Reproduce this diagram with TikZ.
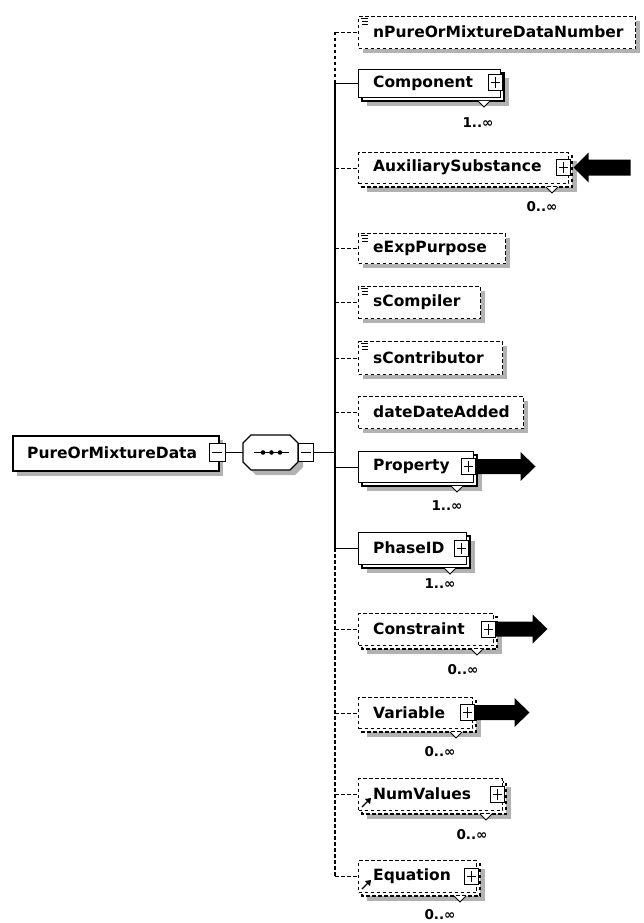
\documentclass[tikz,border=0pt]{standalone}
\usepackage{fontspec}
\setmainfont{DejaVu Sans}
\tikzset{
  lbl/.style={font=\fontsize{15.5}{18}\selectfont\bfseries, anchor=west, inner sep=0},
  mult/.style={font=\fontsize{13.5}{15}\selectfont\bfseries, inner sep=0},
  shadowfill/.style={fill=black!30},
  optline/.style={dash pattern=on 3.5pt off 2.5pt},
  boxline/.style={line width=1.3pt},
  pmbox/.style={draw, fill=white, line width=1pt, minimum width=14pt, minimum height=16pt, inner sep=0},
  elbox/.style={draw, boxline, fill=white, anchor=north west, inner sep=0},
}
% simple element: name, top, bottom, right, text
\newcommand\simpleel[5]{%
  \fill[shadowfill] (363,#2+5) rectangle (#4+5,#3+5);
  \node[elbox, optline, minimum width={(#4-358)*1pt}, minimum height={(#3-#2)*1pt}] (#1) at (358,#2) {};
  \node[lbl] (#1-t) at (373,{(#2+#3)/2}) {#5};
}
% list icon
\newcommand\listicon[1]{%
  \draw[line width=0.8pt] (361,#1+2) -- (368,#1+2) (362,#1+5) -- (368,#1+5) (362,#1+8) -- (368,#1+8);
}
% reference icon
\newcommand\reficon[1]{%
  \draw[line width=1.1pt] (362,#1-3) -- (369,#1-10);
  \fill (371,#1-12) -- (365,#1-11) -- (370,#1-6) -- cycle;
}
% stacked element: name, top, bottom, right, text, border style, multx, multy, multtext
\newcommand\stackel[9]{%
  \fill[shadowfill] (367,#2+9) rectangle (#4+9,#3+9);
  \draw[#6, boxline, fill=white] (362,#2+4) rectangle (#4+4,#3+4);
  \node[elbox, #6, minimum width={(#4-358)*1pt}, minimum height={(#3-#2)*1pt}] (#1) at (358,#2) {};
  \node[lbl] (#1-t) at (373,{(#2+#3)/2}) {#5};
  \node[pmbox] (#1-p) at (#4-5,{(#2+#3)/2}) {};
  \draw[line width=1pt] ([xshift=-4.5pt]#1-p.center) -- ([xshift=4.5pt]#1-p.center)
        ([yshift=-5.5pt]#1-p.center) -- ([yshift=5.5pt]#1-p.center);
  \draw[line width=0.9pt, fill=white] (#4-22,#3+4) -- (#4-16,#3+10) -- (#4-10,#3+4);
  \node[mult] (#1-m) at (#7,#8) {#9};
}
\begin{document}
\begin{tikzpicture}[x=1pt,y=-1pt]
\useasboundingbox (0,0) rectangle (643,923);

% root element
\fill[shadowfill] (17,440) rectangle (223,476);
\node[elbox, line width=1.6pt, minimum width=206pt, minimum height=35pt] (root) at (12,435) {};
\node[lbl] (root-t) at (27,452.5) {PureOrMixtureData};
\node[pmbox, minimum width=16pt, minimum height=18pt] (root-m) at (217,452.5) {};
\draw[line width=1pt] ([xshift=-5pt]root-m.center) -- ([xshift=5pt]root-m.center);

% sequence compositor
\fill[shadowfill] (256,440) -- (295,440) -- (303,448) -- (303,467) -- (295,475) -- (256,475) -- (248,467) -- (248,448) -- cycle;
\draw[boxline, fill=white] (251,435) -- (290,435) -- (298,443) -- (298,462) -- (290,470) -- (251,470) -- (243,462) -- (243,443) -- cycle;
\node[inner sep=0, minimum width=55pt, minimum height=35pt] (seq) at (270.5,452.5) {};
\draw[line width=1.1pt] (254,452.5) -- (289,452.5);
\fill (263,452.5) circle (2.3pt) (271.5,452.5) circle (2.3pt) (280,452.5) circle (2.3pt);
\node[pmbox, minimum width=15pt, minimum height=18pt] (seq-m) at (306,452.5) {};
\draw[line width=1pt] ([xshift=-5pt]seq-m.center) -- ([xshift=5pt]seq-m.center);

\draw[boxline] (root-m.east) -- (seq.west);
\coordinate (j) at (335,452.5);
\draw[boxline] (seq-m.east) -- (j);

% children
\simpleel{npure}{16}{48}{635}{nPureOrMixtureDataNumber}
\listicon{16}
\stackel{comp}{69}{97}{500}{Component}{solid}{478}{123}{1..∞}
\stackel{aux}{152}{183}{568}{AuxiliarySubstance}{optline}{542}{207}{0..∞}
\simpleel{eexp}{233}{263}{505}{eExpPurpose}
\listicon{233}
\simpleel{scomp}{286}{318}{480}{sCompiler}
\listicon{286}
\simpleel{scont}{341}{374}{502}{sContributor}
\listicon{341}
\simpleel{date}{396}{428}{523}{dateDateAdded}
\stackel{prop}{451}{482}{473}{Property}{solid}{447}{506}{1..∞}
\stackel{phase}{532}{564}{466}{PhaseID}{solid}{440}{584}{1..∞}
\stackel{cons}{613}{645}{493}{Constraint}{optline}{463}{670}{0..∞}
\stackel{var}{697}{728}{472}{Variable}{optline}{440}{752}{0..∞}
\stackel{numv}{778}{810}{502}{NumValues}{optline}{472}{835}{0..∞}
\reficon{810}
\stackel{equ}{860}{892}{476}{Equation}{optline}{440}{915}{0..∞}
\reficon{892}

% vertical bus
\coordinate (vt) at (335,32);
\coordinate (vs1) at (335,83);
\coordinate (vs2) at (335,548);
\coordinate (vb) at (335,876);
\draw[boxline, optline] (vt) -- (vs1);
\draw[boxline] (vs1) -- (vs2);
\draw[boxline, optline] (vs2) -- (vb);

% connectors
\foreach \n in {npure,aux,eexp,scomp,scont,date,cons,var,numv,equ}
  \draw[boxline, optline] (\n.west -| vt) -- (\n.west);
\foreach \n in {comp,prop,phase}
  \draw[boxline] (\n.west -| vt) -- (\n.west);

% big arrows
\fill (aux-p.east) ++(3,0) -- ++(15,-15) -- ++(0,7) -- ++(42,0) -- ++(0,16) -- ++(-42,0) -- ++(0,7) -- cycle;
\fill (prop-p.east) ++(0,-7.5) -- ++(45,0) -- ++(0,-7) -- ++(15,14.5) -- ++(-15,14.5) -- ++(0,-7) -- ++(-45,0) -- cycle;
\fill (cons-p.east) ++(0,-7.5) -- ++(37,0) -- ++(0,-7) -- ++(15,14.5) -- ++(-15,14.5) -- ++(0,-7) -- ++(-37,0) -- cycle;
\fill (var-p.east) ++(0,-7.5) -- ++(40,0) -- ++(0,-7) -- ++(15,14.5) -- ++(-15,14.5) -- ++(0,-7) -- ++(-40,0) -- cycle;
\end{tikzpicture}
\end{document}
